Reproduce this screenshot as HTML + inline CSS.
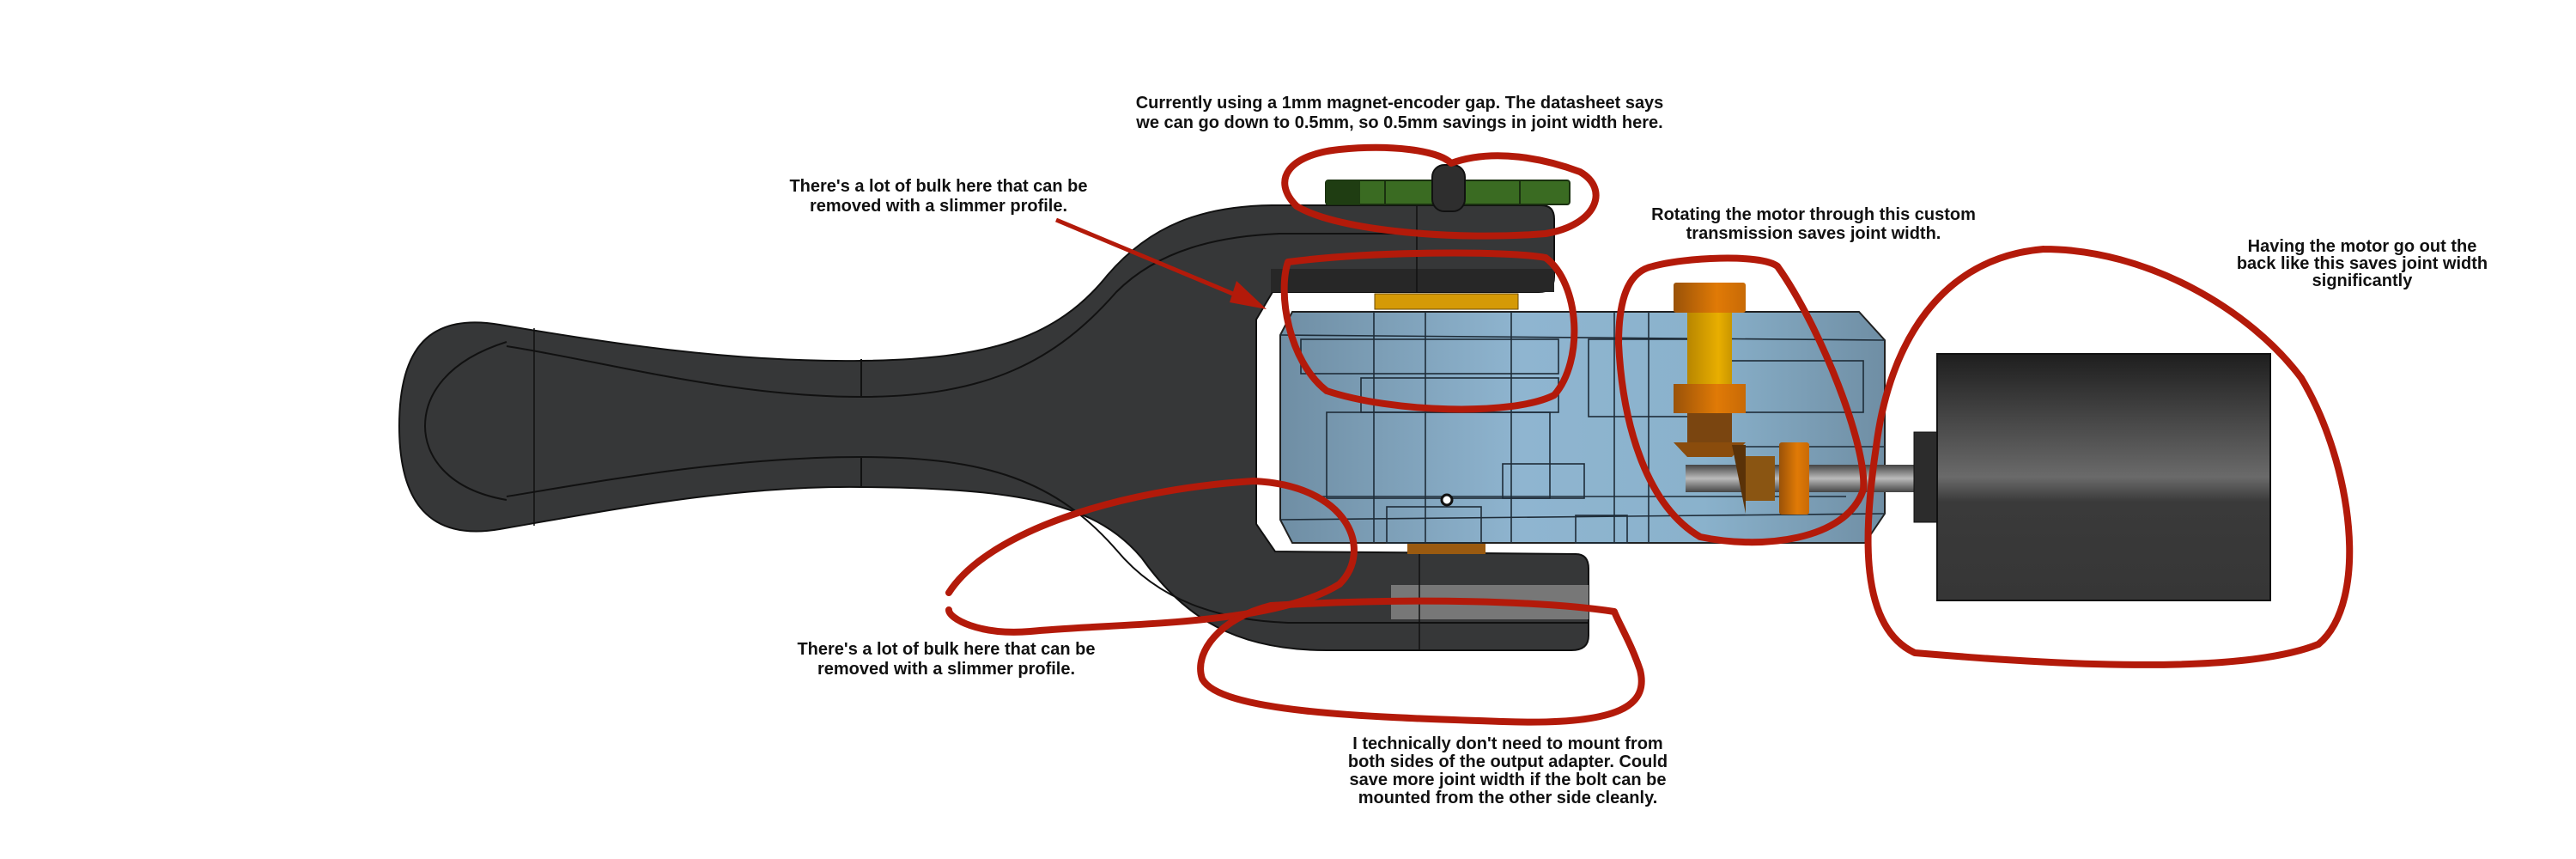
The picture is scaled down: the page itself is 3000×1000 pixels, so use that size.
<!DOCTYPE html>
<html><head><meta charset="utf-8"><style>
html,body{margin:0;padding:0;background:#fff;}
svg{display:block;}
text{font-family:"Liberation Sans",sans-serif;font-weight:bold;font-size:20px;fill:#111;text-anchor:middle;}
</style></head><body>
<svg width="3000" height="1000" viewBox="0 0 3000 1000" xmlns="http://www.w3.org/2000/svg">
<defs>
<linearGradient id="blue" x1="0" x2="1" y1="0" y2="0">
<stop offset="0" stop-color="#6f8ea4"/><stop offset="0.4" stop-color="#8fb5d0"/><stop offset="0.7" stop-color="#8ab2cc"/><stop offset="1" stop-color="#6f8ea4"/></linearGradient>
<linearGradient id="motor" x1="0" x2="0" y1="0" y2="1">
<stop offset="0" stop-color="#1e1e1e"/><stop offset="0.5" stop-color="#6a6a6a"/><stop offset="0.6" stop-color="#3a3a3a"/><stop offset="1" stop-color="#363636"/></linearGradient>
<linearGradient id="orange" x1="0" x2="1"><stop offset="0" stop-color="#9a5208"/><stop offset="0.6" stop-color="#e07a06"/><stop offset="1" stop-color="#c86a06"/></linearGradient>
<linearGradient id="yellow" x1="0" x2="1"><stop offset="0" stop-color="#b88600"/><stop offset="0.7" stop-color="#e8ae00"/><stop offset="1" stop-color="#c99600"/></linearGradient>
<linearGradient id="shaft" x1="0" x2="0" y1="0" y2="1"><stop offset="0" stop-color="#444"/><stop offset="0.5" stop-color="#bbb"/><stop offset="1" stop-color="#444"/></linearGradient>
</defs>

<!-- handle -->
<path d="M582,378 C700,398 850,422 1003,420 C1150,418 1230,395 1290,320 C1340,262 1400,240 1481,239 L1795,239 Q1810,239 1810,255 L1810,322 Q1810,340 1792,340 L1482,340 L1463,372 L1463,610 L1485,642 L1835,645 Q1850,645 1850,662 L1850,740 Q1850,757 1830,757 L1545,757 C1440,757 1380,720 1330,650 C1280,590 1200,568 1003,567 C850,565 700,596 582,616 C500,630 465,585 465,496 C465,405 500,364 582,378 Z" fill="#363738" stroke="#111" stroke-width="2"/>
<path d="M590,403 C700,420 850,462 1003,462 C1150,462 1230,420 1300,340 C1350,290 1420,275 1490,272 L1810,272" fill="none" stroke="#111" stroke-width="2"/>
<path d="M590,578 C700,560 850,532 1003,532 C1150,532 1230,560 1300,640 C1350,700 1420,722 1500,725 L1850,725" fill="none" stroke="#111" stroke-width="2"/>
<path d="M590,398 C520,420 495,460 495,496 C495,530 520,570 590,582" fill="none" stroke="#111" stroke-width="2"/>
<line x1="1003" y1="418" x2="1003" y2="462" stroke="#111" stroke-width="2"/>
<line x1="1003" y1="532" x2="1003" y2="567" stroke="#111" stroke-width="2"/>
<line x1="622" y1="382" x2="622" y2="612" stroke="#111" stroke-width="1.5"/>
<rect x="1480" y="313" width="330" height="27" fill="#272727"/>
<rect x="1620" y="681" width="230" height="40" fill="#777"/>
<line x1="1650" y1="239" x2="1650" y2="340" stroke="#111" stroke-width="1.5"/>
<line x1="1653" y1="645" x2="1653" y2="757" stroke="#111" stroke-width="1.5"/>

<!-- green cap -->
<rect x="1544" y="210" width="284" height="28" rx="3" fill="#3a6b22" stroke="#1a3010" stroke-width="2"/>
<rect x="1544" y="210" width="40" height="28" fill="#1f3d12"/>
<line x1="1613" y1="210" x2="1613" y2="238" stroke="#1a3010" stroke-width="2"/>
<line x1="1770" y1="210" x2="1770" y2="238" stroke="#1a3010" stroke-width="2"/>
<rect x="1668" y="192" width="38" height="54" rx="14" fill="#2e2e2e" stroke="#111" stroke-width="2"/>

<!-- gold ring + bronze ring -->
<rect x="1601" y="342" width="167" height="18" fill="#d59a06" stroke="#6a4a00"/>
<rect x="1639" y="632" width="91" height="13" fill="#9a5a10"/>

<!-- blue housing -->
<path d="M1505,363 L2165,363 L2195,396 L2195,598 L2172,632 L1505,632 L1491,605 L1491,390 Z" fill="url(#blue)" stroke="#222" stroke-width="2"/>
<g fill="none" stroke="#1e2c38" stroke-width="1.6">
<rect x="1515" y="395" width="300" height="40"/>
<rect x="1585" y="440" width="230" height="40"/>
<rect x="1545" y="480" width="260" height="100"/>
<rect x="1615" y="590" width="110" height="42"/>
<rect x="1750" y="540" width="95" height="40"/>
<rect x="1850" y="395" width="130" height="90"/>
<rect x="2010" y="420" width="160" height="60"/>
<rect x="1835" y="600" width="60" height="32"/>
<line x1="1600" y1="363" x2="1600" y2="632"/>
<line x1="1660" y1="363" x2="1660" y2="632"/>
<line x1="1760" y1="363" x2="1760" y2="632"/>
<line x1="1880" y1="363" x2="1880" y2="632"/>
<line x1="1920" y1="363" x2="1920" y2="632"/>
<line x1="1491" y1="390" x2="2195" y2="396"/>
<line x1="1491" y1="605" x2="2195" y2="598"/>
<line x1="1530" y1="578" x2="2150" y2="578"/>
<line x1="2010" y1="520" x2="2195" y2="520"/>
</g>
<circle cx="1685" cy="582" r="6" fill="#fff" stroke="#111" stroke-width="3"/>

<!-- transmission -->
<rect x="1963" y="541" width="266" height="32" fill="url(#shaft)"/>
<rect x="1949" y="329" width="84" height="35" rx="3" fill="url(#orange)"/>
<rect x="1965" y="364" width="52" height="83" fill="url(#yellow)"/>
<rect x="1949" y="447" width="84" height="34" fill="url(#orange)"/>
<rect x="1965" y="481" width="52" height="34" fill="#7a4510"/>
<polygon points="1949,515 2033,515 2017,532 1965,532" fill="#8a4c0c"/>
<polygon points="2017,518 2033,518 2033,598" fill="#5a3208"/>
<rect x="2033" y="531" width="34" height="52" fill="#8a5512"/>
<rect x="2072" y="515" width="35" height="84" rx="3" fill="url(#orange)"/>

<!-- motor -->
<rect x="2229" y="503" width="27" height="105" fill="#2c2c2c" stroke="#111"/>
<rect x="2256" y="412" width="388" height="287" fill="url(#motor)" stroke="#111" stroke-width="2"/>

<!-- red annotations -->
<g fill="none" stroke="#b31a0a" stroke-width="8" stroke-linecap="round">
<path d="M1690,190 C1740,172 1800,185 1840,200 C1875,220 1860,262 1800,272 C1700,280 1560,270 1510,240 C1480,210 1500,180 1560,174 C1620,168 1675,175 1690,190"/>
<path d="M1500,305 C1600,292 1760,292 1800,300 C1840,330 1845,420 1810,460 C1760,485 1620,480 1545,455 C1500,420 1488,340 1500,305"/>
<path d="M1925,310 C1960,300 2050,295 2070,310 C2120,380 2175,520 2170,570 C2150,630 2050,640 1980,625 C1920,590 1890,500 1885,400 C1885,340 1900,315 1925,310"/>
<path d="M2380,290 C2500,290 2620,360 2680,440 C2740,540 2760,700 2700,750 C2600,790 2350,770 2230,760 C2165,730 2170,620 2185,520 C2200,400 2260,300 2380,290"/>
<path d="M1105,690 C1150,620 1300,570 1460,560 C1570,565 1600,640 1560,680 C1480,730 1300,725 1200,735 C1140,740 1105,720 1105,710"/>
<path d="M1880,712 C1800,700 1650,695 1480,705 C1420,720 1390,760 1400,790 C1420,830 1600,835 1750,840 C1890,845 1920,820 1910,780 C1900,750 1885,725 1880,712"/>
</g>
<line x1="1230" y1="256" x2="1455" y2="350" stroke="#b31a0a" stroke-width="5"/>
<polygon points="1475,360 1440,327 1432,352" fill="#b31a0a"/>

<!-- text -->
<text x="1630" y="126">Currently using a 1mm magnet-encoder gap. The datasheet says</text>
<text x="1630" y="149">we can go down to 0.5mm, so 0.5mm savings in joint width here.</text>
<text x="1093" y="223">There's a lot of bulk here that can be</text>
<text x="1093" y="246">removed with a slimmer profile.</text>
<text x="1102" y="762">There's a lot of bulk here that can be</text>
<text x="1102" y="785">removed with a slimmer profile.</text>
<text x="2112" y="256">Rotating the motor through this custom</text>
<text x="2112" y="278">transmission saves joint width.</text>
<text x="2751" y="293">Having the motor go out the</text>
<text x="2751" y="313">back like this saves joint width</text>
<text x="2751" y="333">significantly</text>
<text x="1756" y="872">I technically don't need to mount from</text>
<text x="1756" y="893">both sides of the output adapter. Could</text>
<text x="1756" y="914">save more joint width if the bolt can be</text>
<text x="1756" y="935">mounted from the other side cleanly.</text>
</svg>
</body></html>
